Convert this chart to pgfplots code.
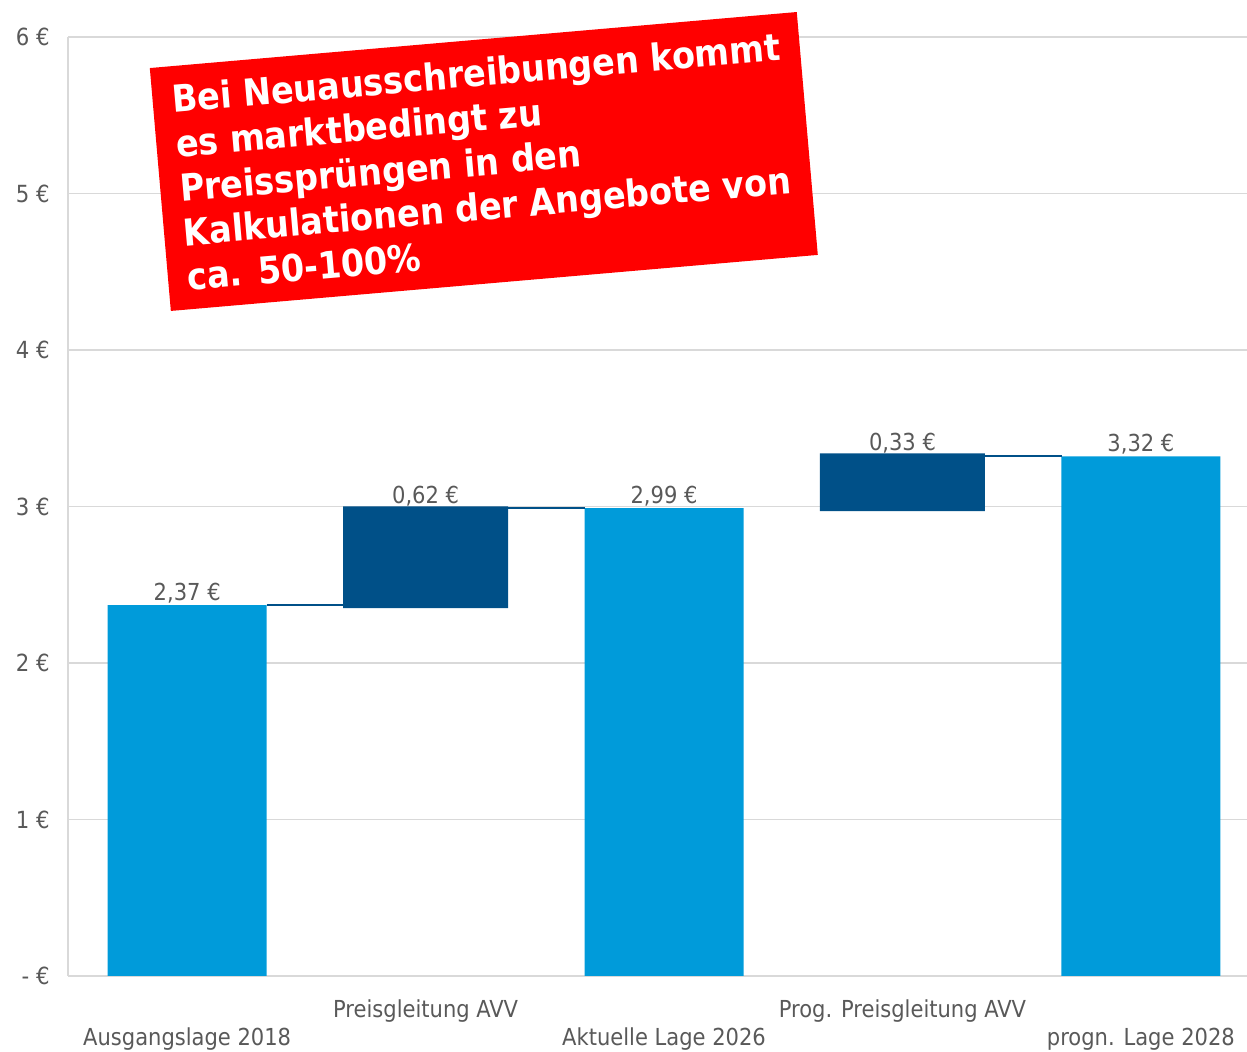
\documentclass[border=0pt]{standalone}
\usepackage{pgfplots}
\pgfplotsset{compat=1.18}
\usepackage{fontspec}
\setmainfont{DejaVu Sans Condensed}
\definecolor{lightbar}{RGB}{0,155,218}
\definecolor{darkbar}{RGB}{0,80,136}
\definecolor{gridgray}{RGB}{217,217,217}
\definecolor{txt}{RGB}{89,89,89}
\pgfplotsset{common/.style={at={(0,0)}, anchor=south west, scale only axis,
  width=589.5pt, height=469.5pt, xmin=-0.5, xmax=4.445, ymin=0, ymax=6, clip=false}}
\begin{document}
\begin{tikzpicture}[x=1pt,y=1pt]
\begin{axis}[common,
  axis lines*=left, axis line style={gridgray, line width=0.75pt},
  xtick=\empty, ytick={0,1,2,3,4,5,6},
  yticklabels={- €,1 €,2 €,3 €,4 €,5 €,6 €},
  ymajorgrids, grid style={gridgray, line width=0.75pt}, major tick length=0pt,
  yticklabel style={font=\fontsize{11.8}{14}\selectfont, text=txt, anchor=east, inner sep=0pt, xshift=-9pt},
  /pgf/number format/assume math mode=true,
  ybar stacked, bar shift=0pt]
\addplot[draw=none, fill=none, bar width=82.5pt] coordinates {(0,0) (1,2.35) (2,0) (3,2.97) (4,0)};
\addplot[draw=none, fill=lightbar, bar width=79.5pt] coordinates {(0,2.37) (1,0) (2,2.99) (3,0) (4,3.32)};
\addplot[draw=none, fill=darkbar, bar width=82.5pt] coordinates {(0,0) (1,0.65) (2,0) (3,0.37) (4,0)};
\end{axis}
\begin{axis}[common, hide axis]
\addplot[darkbar, line width=1pt] coordinates {(0.333,2.37) (0.654,2.37)};
\addplot[darkbar, line width=1pt] coordinates {(1.346,2.99) (1.667,2.99)};
\addplot[darkbar, line width=1pt] coordinates {(3.346,3.32) (3.667,3.32)};
\begin{scope}[every node/.style={font=\fontsize{11.7}{14}\selectfont, text=txt, anchor=base, inner sep=0pt}]
\node[yshift=2.5pt] at (axis cs:0,2.37) {2,37 €};
\node[yshift=1.5pt] at (axis cs:1,3.00) {0,62 €};
\node[yshift=2.5pt] at (axis cs:2,2.99) {2,99 €};
\node[yshift=1.5pt] at (axis cs:3,3.34) {0,33 €};
\node[yshift=2.5pt] at (axis cs:4,3.32) {3,32 €};
\node[yshift=-35pt] at (axis cs:0,0) {Ausgangslage 2018};
\node[yshift=-20.9pt] at (axis cs:1,0) {Preisgleitung AVV};
\node[yshift=-35pt] at (axis cs:2,0) {Aktuelle Lage 2026};
\node[yshift=-20.9pt] at (axis cs:3,0) {Prog. Preisgleitung AVV};
\node[yshift=-35pt] at (axis cs:4,0) {progn. Lage 2028};
\end{scope}
\end{axis}
\node[rotate=4.95, fill=red, text=white, font=\bfseries\fontsize{18.6}{22.3}\selectfont,
  align=left, minimum width=324.7pt, minimum height=121.9pt, inner sep=0pt]
  at (207.9,407.25) {Bei Neuausschreibungen kommt\\es marktbedingt zu\\Preissprüngen in den\\Kalkulationen der Angebote von\\ca. 50-100\%};
\pgfresetboundingbox
\useasboundingbox (-34,-38) rectangle (589.5,488);
\end{tikzpicture}
\end{document}
